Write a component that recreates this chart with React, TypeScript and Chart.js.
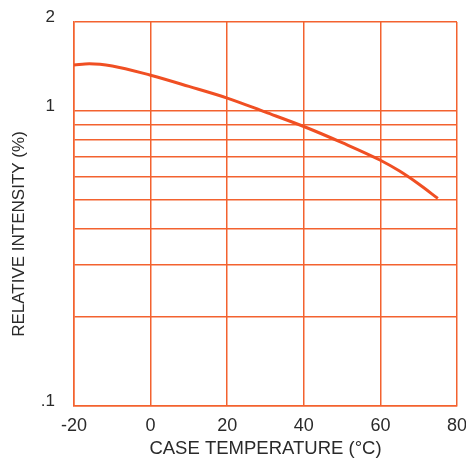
import { useEffect, useLayoutEffect, useRef } from "react";
import { Chart, registerables } from "chart.js";

Chart.register(...registerables);

// ---- data ----
const temperatures = [-20, -16, -10, 0, 10, 20, 30, 40, 50, 60, 65, 70, 75];
const intensities = [1.43, 1.445, 1.42, 1.32, 1.21, 1.105, 0.99, 0.885, 0.78, 0.68, 0.625, 0.565, 0.505];
const yGridValues = [0.1, 0.2, 0.3, 0.4, 0.5, 0.6, 0.7, 0.8, 0.9, 1, 2];
const yTickLabels: Record<string, string> = { "0.1": ".1", "1": "1", "2": "2" };
const xTickValues = [-20, 0, 20, 40, 60, 80];
const xTitle = "CASE TEMPERATURE (°C)";
const yTitle = "RELATIVE INTENSITY (%)";

const FONT = '"Liberation Sans", Arial, Helvetica, sans-serif';
const TEXT = "#2a2a2a";
const GRID = "#f3622f";
const LINE = "#f04f23";

const yTitlePlugin = {
  id: "yTitleCustom",
  afterDraw(chart: any) {
    const { ctx, chartArea } = chart;
    ctx.save();
    ctx.translate(19.5, (chartArea.top + chartArea.bottom) / 2 + 20);
    ctx.rotate(-Math.PI / 2);
    ctx.font = `17px ${FONT}`;
    ctx.fillStyle = TEXT;
    ctx.textAlign = "center";
    ctx.textBaseline = "middle";
    ctx.fillText(yTitle, 0, 0);
    ctx.restore();
  },
};

export default function App() {
  const ref = useRef<HTMLCanvasElement | null>(null);

  useLayoutEffect(() => {
    document.body.style.margin = "0";
  }, []);

  useEffect(() => {
    if (!ref.current) return;
    Chart.defaults.font.family = FONT;
    const chart = new Chart(ref.current, {
      type: "line",
      data: {
        datasets: [
          {
            data: temperatures.map((t, i) => ({ x: t, y: intensities[i] })),
            borderColor: LINE,
            borderWidth: 3,
            pointRadius: 0,
            cubicInterpolationMode: "monotone",
            fill: false,
          },
        ],
      },
      options: {
        animation: false,
        responsive: true,
        maintainAspectRatio: false,
        layout: { padding: { top: 22, right: 9, left: 0, bottom: 0 } },
        plugins: { legend: { display: false }, tooltip: { enabled: false } },
        scales: {
          x: {
            type: "linear",
            min: -20,
            max: 80,
            afterBuildTicks: (s: any) => {
              s.ticks = xTickValues.map((v) => ({ value: v }));
            },
            afterFit: (s: any) => {
              s.height = 53;
              s.paddingLeft = 0;
              s.paddingRight = 0;
            },
            ticks: {
              font: { size: 18 },
              color: TEXT,
              padding: 9,
              maxRotation: 0,
              autoSkip: false,
            },
            grid: { color: GRID, lineWidth: 1.5, drawTicks: false },
            border: { color: GRID, width: 1.5 },
            title: {
              display: true,
              text: xTitle,
              font: { size: 18.5 },
              color: TEXT,
              padding: { top: 0, bottom: -1 },
            },
          },
          y: {
            type: "logarithmic",
            min: 0.1,
            max: 2,
            afterBuildTicks: (s: any) => {
              s.ticks = yGridValues.map((v) => ({ value: v }));
            },
            afterFit: (s: any) => {
              s.width = 74;
              s.paddingTop = 0;
              s.paddingBottom = 0;
            },
            ticks: {
              font: { size: 17 },
              color: TEXT,
              padding: 19,
              labelOffset: -5,
              autoSkip: false,
              callback: (v: any) => yTickLabels[String(v)] ?? "",
            },
            grid: { color: GRID, lineWidth: 1.5, drawTicks: false },
            border: { color: GRID, width: 1.5 },
          },
        },
      },
      plugins: [yTitlePlugin],
    });
    return () => chart.destroy();
  }, []);

  return (
    <div style={{ position: "relative", width: 466, height: 459 }}>
      <canvas ref={ref} />
    </div>
  );
}
